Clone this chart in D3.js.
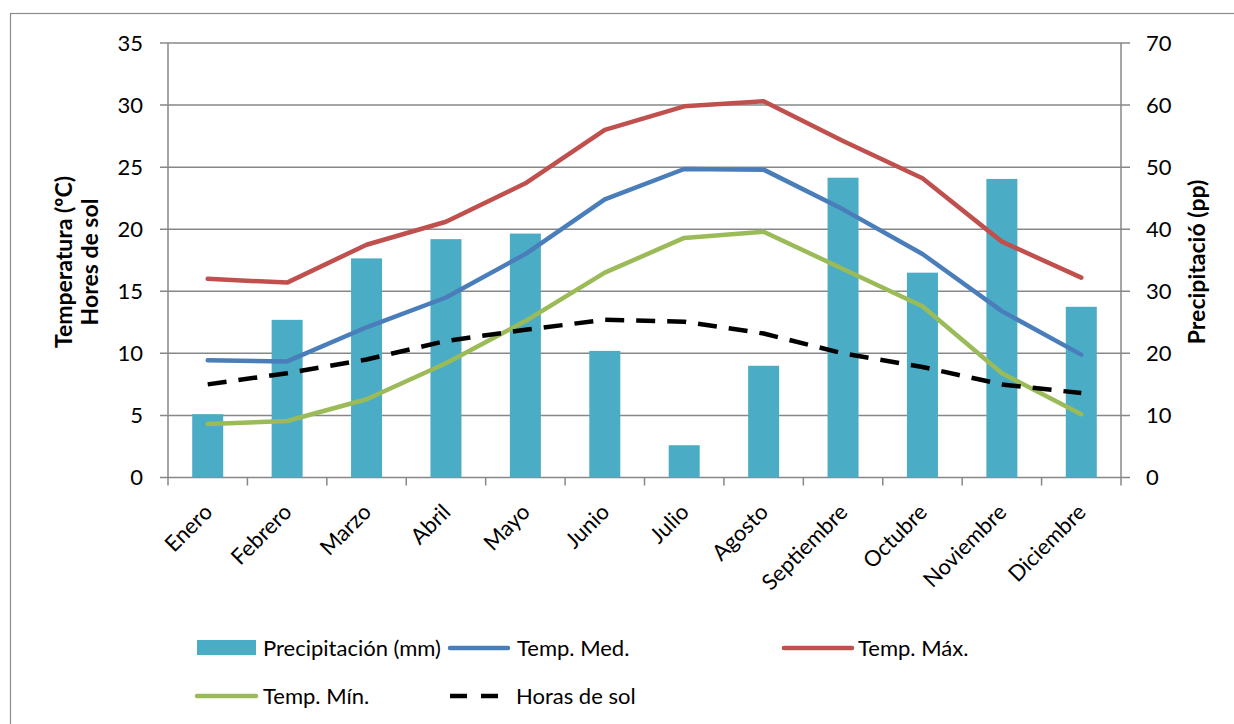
<!DOCTYPE html>
<html>
<head>
<meta charset="utf-8">
<script src="https://cdn.jsdelivr.net/npm/d3@7"></script>
<style>
  html, body { margin: 0; padding: 0; background: #fff; }
  svg { display: block; font-family: Lato, "Noto Sans", sans-serif; }
</style>
</head>
<body>
<svg id="chart" width="1234" height="724"></svg>
<script>
// Monthly climate data
const months = ["Enero", "Febrero", "Marzo", "Abril", "Mayo", "Junio", "Julio",
  "Agosto", "Septiembre", "Octubre", "Noviembre", "Diciembre"];
const precipitation = [10.2, 25.4, 35.3, 38.4, 39.3, 20.4, 5.2, 18.0, 48.3, 33.0, 48.1, 27.5];
const tempMed = [9.45, 9.35, 12.1, 14.5, 18.0, 22.4, 24.85, 24.8, 21.6, 18.0, 13.4, 9.9];
const tempMax = [16.0, 15.7, 18.75, 20.6, 23.7, 28.0, 29.9, 30.3, 27.1, 24.1, 19.0, 16.1];
const tempMin = [4.3, 4.55, 6.3, 9.2, 12.6, 16.5, 19.3, 19.8, 16.8, 13.8, 8.4, 5.1];
const sunHours = [7.5, 8.4, 9.5, 11.0, 11.9, 12.7, 12.55, 11.6, 10.0, 8.9, 7.5, 6.8];
const leftTicks = [0, 5, 10, 15, 20, 25, 30, 35];
const rightTicks = [0, 10, 20, 30, 40, 50, 60, 70];

const svg = d3.select("#chart");
const plot = { left: 168, right: 1121, top: 43, bottom: 477.5 };

const x = d3.scaleBand().domain(months).range([plot.left, plot.right]);
const yL = d3.scaleLinear().domain([0, 35]).range([plot.bottom, plot.top]);
const yR = d3.scaleLinear().domain([0, 70]).range([plot.bottom, plot.top]);

const gridColor = "#878787";

// Outer frame
svg.append("rect")
  .attr("x", 10.5).attr("y", 13.5).attr("width", 1400).attr("height", 900)
  .attr("fill", "none").attr("stroke", "#8c8c8c").attr("stroke-width", 1.2);

// Horizontal gridlines (extend across both tick stubs)
svg.append("g").selectAll("line").data(leftTicks).join("line")
  .attr("x1", plot.left - 8).attr("x2", plot.right + 9)
  .attr("y1", d => yL(d)).attr("y2", d => yL(d))
  .attr("stroke", gridColor).attr("stroke-width", 1.5);

// Vertical axis lines
[plot.left, plot.right].forEach(px => {
  svg.append("line").attr("x1", px).attr("x2", px)
    .attr("y1", plot.top).attr("y2", plot.bottom)
    .attr("stroke", gridColor).attr("stroke-width", 1.5);
});

// Category tick marks on the x axis
const bounds = months.map(m => x(m)).concat([plot.right]);
svg.append("g").selectAll("line").data(bounds).join("line")
  .attr("x1", d => d).attr("x2", d => d)
  .attr("y1", plot.bottom).attr("y2", plot.bottom + 8)
  .attr("stroke", gridColor).attr("stroke-width", 1.5);

// Left tick labels
svg.append("g").selectAll("text").data(leftTicks).join("text")
  .attr("x", 143).attr("y", d => yL(d))
  .attr("dy", "0.36em").attr("text-anchor", "end")
  .attr("font-size", 22).attr("fill", "#000")
  .text(d => d);

// Right tick labels
svg.append("g").selectAll("text").data(rightTicks).join("text")
  .attr("x", 1146).attr("y", d => yR(d))
  .attr("dy", "0.36em").attr("text-anchor", "start")
  .attr("font-size", 22).attr("fill", "#000")
  .text(d => d);

// Month labels, rotated
svg.append("g").selectAll("text").data(months).join("text")
  .attr("transform", d => `translate(${x(d) + x.bandwidth() / 2 + 6},${plot.bottom + 36}) rotate(-45)`)
  .attr("text-anchor", "end")
  .attr("font-size", 22).attr("fill", "#000")
  .text(d => d);

// Precipitation bars
const barW = 31;
svg.append("g").selectAll("rect").data(precipitation).join("rect")
  .attr("x", (d, i) => x(months[i]) + x.bandwidth() / 2 - barW / 2)
  .attr("y", d => yR(d))
  .attr("width", barW)
  .attr("height", d => plot.bottom - yR(d))
  .attr("fill", "#4bacc6");

// Lines
const line = d3.line()
  .x((d, i) => x(months[i]) + x.bandwidth() / 2)
  .y(d => yL(d));

const series = [
  { values: tempMin, color: "#9bbb59", dash: null },
  { values: tempMed, color: "#4a7ebb", dash: null },
  { values: tempMax, color: "#c0504d", dash: null },
  { values: sunHours, color: "#000000", dash: "19,12" }
];
series.forEach(s => {
  svg.append("path").datum(s.values)
    .attr("d", line)
    .attr("fill", "none")
    .attr("stroke", s.color)
    .attr("stroke-width", 4.5)
    .attr("stroke-linejoin", "round")
    .attr("stroke-linecap", s.dash ? "butt" : "round")
    .attr("stroke-dasharray", s.dash);
});

// Axis titles
const titleL = svg.append("text")
  .attr("transform", "translate(72,262) rotate(-90)")
  .attr("text-anchor", "middle")
  .attr("font-size", 23).attr("font-weight", "bold").attr("fill", "#000");
titleL.append("tspan").attr("x", 0).attr("dy", 0).text("Temperatura (ºC)");
titleL.append("tspan").attr("x", 0).attr("dy", 26).text("Hores de sol");

svg.append("text")
  .attr("transform", "translate(1205,262) rotate(-90)")
  .attr("text-anchor", "middle")
  .attr("font-size", 23).attr("font-weight", "bold").attr("fill", "#000")
  .text("Precipitació (pp)");

// Legend
const legendFont = 22;
const lg = svg.append("g");
// Row 1
lg.append("rect").attr("x", 197).attr("y", 640).attr("width", 59).attr("height", 15).attr("fill", "#4bacc6");
lg.append("text").attr("x", 263).attr("y", 648).attr("dy", "0.36em").attr("font-size", legendFont).text("Precipitación (mm)");
lg.append("line").attr("x1", 450).attr("x2", 508).attr("y1", 648).attr("y2", 648)
  .attr("stroke", "#4a7ebb").attr("stroke-width", 4.5).attr("stroke-linecap", "round");
lg.append("text").attr("x", 517).attr("y", 648).attr("dy", "0.36em").attr("font-size", legendFont).text("Temp. Med.");
lg.append("line").attr("x1", 784).attr("x2", 852).attr("y1", 648).attr("y2", 648)
  .attr("stroke", "#c0504d").attr("stroke-width", 4.5).attr("stroke-linecap", "round");
lg.append("text").attr("x", 858).attr("y", 648).attr("dy", "0.36em").attr("font-size", legendFont).text("Temp. Máx.");
// Row 2
lg.append("line").attr("x1", 197).attr("x2", 256).attr("y1", 696).attr("y2", 696)
  .attr("stroke", "#9bbb59").attr("stroke-width", 4.5).attr("stroke-linecap", "round");
lg.append("text").attr("x", 263).attr("y", 696).attr("dy", "0.36em").attr("font-size", legendFont).text("Temp. Mín.");
lg.append("line").attr("x1", 450).attr("x2", 498).attr("y1", 696).attr("y2", 696)
  .attr("stroke", "#000").attr("stroke-width", 4.5).attr("stroke-dasharray", "17,14");
lg.append("text").attr("x", 516).attr("y", 696).attr("dy", "0.36em").attr("font-size", legendFont).text("Horas de sol");
</script>
</body>
</html>
